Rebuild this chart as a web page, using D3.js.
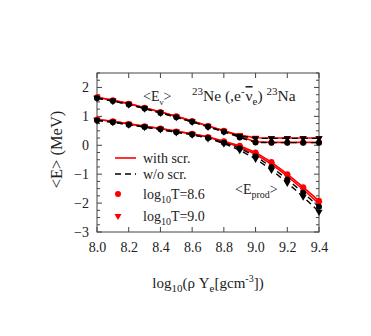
<!DOCTYPE html>
<html>
<head>
<meta charset="utf-8">
<script src="https://cdn.jsdelivr.net/npm/d3@7"></script>
<style>
  body { margin: 0; background: #fff; }
  text { font-family: "Liberation Serif", "DejaVu Serif", serif; fill: #222; }
</style>
</head>
<body>
<div id="chart"></div>
<script>
// Data
const rhoYe = [8.0, 8.1, 8.2, 8.3, 8.4, 8.5, 8.6, 8.7, 8.8, 8.9, 9.0, 9.1, 9.2, 9.3, 9.4]

// <E_nu>
const enuScrT86   = [1.66, 1.56, 1.44, 1.30, 1.15, 1.00, 0.84, 0.67, 0.50, 0.30, 0.12, 0.10, 0.10, 0.10, 0.10]
const enuScrT90   = [1.66, 1.56, 1.44, 1.30, 1.15, 1.00, 0.84, 0.67, 0.50, 0.35, 0.26, 0.25, 0.25, 0.25, 0.25]
const enuNoScrT86 = [1.63, 1.53, 1.41, 1.27, 1.12, 0.97, 0.81, 0.64, 0.47, 0.27, 0.10, 0.09, 0.09, 0.09, 0.09]
const enuNoScrT90 = [1.63, 1.53, 1.41, 1.27, 1.12, 0.97, 0.81, 0.64, 0.47, 0.32, 0.24, 0.24, 0.24, 0.24, 0.24]

// <E_prod>
const eprodScrT86   = [0.89, 0.83, 0.74, 0.66, 0.58, 0.48, 0.40, 0.29, 0.14, -0.02, -0.25, -0.58, -1.00, -1.45, -1.92]
const eprodScrT90   = [0.89, 0.83, 0.74, 0.66, 0.58, 0.48, 0.40, 0.28, 0.12, -0.06, -0.31, -0.65, -1.07, -1.53, -2.02]
const eprodNoScrT86 = [0.86, 0.80, 0.71, 0.63, 0.55, 0.45, 0.37, 0.25, 0.09, -0.10, -0.38, -0.75, -1.18, -1.64, -2.13]
const eprodNoScrT90 = [0.86, 0.80, 0.71, 0.63, 0.55, 0.45, 0.37, 0.24, 0.06, -0.17, -0.47, -0.85, -1.30, -1.78, -2.30]

const xTicks = [8.0, 8.2, 8.4, 8.6, 8.8, 9.0, 9.2, 9.4]
const yTicks = [-3, -2, -1, 0, 1, 2]

const series = [
    {vals: enuScrT86,     color: 'red',   dash: null,  mark: 'circle'},
    {vals: enuScrT90,     color: 'red',   dash: null,  mark: 'tri'},
    {vals: eprodScrT86,   color: 'red',   dash: null,  mark: 'circle'},
    {vals: eprodScrT90,   color: 'red',   dash: null,  mark: 'tri'},
    {vals: enuNoScrT86,   color: 'black', dash: '6,4', mark: 'circle'},
    {vals: enuNoScrT90,   color: 'black', dash: '6,4', mark: 'tri'},
    {vals: eprodNoScrT86, color: 'black', dash: '6,4', mark: 'circle'},
    {vals: eprodNoScrT90, color: 'black', dash: '6,4', mark: 'tri'}
]

//Dimensions
let margin = {top: 73, right: 52, bottom: 104, left: 97},
    width = 371 - margin.left - margin.right,
    height = 336 - margin.top - margin.bottom

const svg = d3.select('#chart')
    .append('svg')
    .attr('width', 371)
    .attr('height', 336)
    .append('g')
    .attr('transform', 'translate(' + margin.left + ',' + margin.top + ')')

// Scales
let x = d3.scaleLinear().domain([8.0, 9.4]).range([0, width])
let y = d3.scaleLinear().domain([-3, 2.5]).range([height, 0])

// Frame
svg.append('rect')
    .attr('width', width).attr('height', height)
    .attr('fill', 'none').attr('stroke', '#444').attr('stroke-width', 1)

// Ticks (inward) - minor y every 0.25
let yMinor = d3.range(-3, 2.51, 0.25)
const tickColor = '#444'
yMinor.forEach(v => {
    let major = Math.abs(v - Math.round(v)) < 1e-6
    let len = major ? 5 : 3
    svg.append('line').attr('x1', 0).attr('x2', len).attr('y1', y(v)).attr('y2', y(v)).attr('stroke', tickColor)
    svg.append('line').attr('x1', width).attr('x2', width - len).attr('y1', y(v)).attr('y2', y(v)).attr('stroke', tickColor)
})
xTicks.forEach(v => {
    svg.append('line').attr('x1', x(v)).attr('x2', x(v)).attr('y1', height).attr('y2', height - 5).attr('stroke', tickColor)
    svg.append('line').attr('x1', x(v)).attr('x2', x(v)).attr('y1', 0).attr('y2', 5).attr('stroke', tickColor)
})

// Axis labels via d3 axes (ticks hidden, just text)
let xAxis = svg.append('g')
    .attr('transform', 'translate(0,' + height + ')')
    .call(d3.axisBottom(x).tickValues(xTicks).tickFormat(d3.format('.1f')).tickSize(0).tickPadding(10))
let yAxis = svg.append('g')
    .call(d3.axisLeft(y).tickValues(yTicks).tickFormat(d3.format('d')).tickSize(0).tickPadding(8))
svg.selectAll('.domain').remove()
svg.selectAll('.tick text')
    .style('font-family', '"Liberation Serif", serif')
    .style('font-size', '14px')
    .attr('fill', '#222')

// Lines
let line = d3.line().x((d, i) => x(rhoYe[i])).y(d => y(d))
let tri = d3.symbol().type(d3.symbolTriangle).size(22)

series.forEach(s => {
    svg.append('path')
        .datum(s.vals)
        .attr('d', line)
        .attr('fill', 'none')
        .attr('stroke', s.color)
        .attr('stroke-width', s.color === 'red' ? 1.6 : 1.4)
        .attr('stroke-dasharray', s.dash)
    let g = svg.append('g')
    if (s.mark === 'circle') {
        g.selectAll('circle').data(s.vals).enter().append('circle')
            .attr('cx', (d, i) => x(rhoYe[i]))
            .attr('cy', d => y(d))
            .attr('r', 3)
            .attr('fill', s.color)
    } else {
        g.selectAll('path').data(s.vals).enter().append('path')
            .attr('d', tri)
            .attr('transform', (d, i) => 'translate(' + x(rhoYe[i]) + ',' + y(d) + ') rotate(180)')
            .attr('fill', s.color)
    }
})

// Legend
let leg = svg.append('g')
leg.append('line').attr('x1', 18).attr('x2', 39).attr('y1', 85).attr('y2', 85).attr('stroke', 'red').attr('stroke-width', 1.6)
leg.append('text').attr('x', 46).attr('y', 90).style('font-size', '14px').text('with scr.')
leg.append('line').attr('x1', 18).attr('x2', 39).attr('y1', 101).attr('y2', 101).attr('stroke', 'black').attr('stroke-width', 1.6).attr('stroke-dasharray', '6,4')
leg.append('text').attr('x', 46).attr('y', 106).style('font-size', '14px').text('w/o scr.')
leg.append('circle').attr('cx', 21).attr('cy', 121).attr('r', 3).attr('fill', 'red')
let t1 = leg.append('text').attr('x', 46).attr('y', 126).style('font-size', '14px')
t1.append('tspan').text('log')
t1.append('tspan').attr('dy', 4).style('font-size', '10px').text('10')
t1.append('tspan').attr('dy', -4).text('T=8.6')
leg.append('path').attr('d', tri).attr('transform', 'translate(21,143) rotate(180)').attr('fill', 'red')
let t2 = leg.append('text').attr('x', 46).attr('y', 148).style('font-size', '14px')
t2.append('tspan').text('log')
t2.append('tspan').attr('dy', 4).style('font-size', '10px').text('10')
t2.append('tspan').attr('dy', -4).text('T=9.0')

// Annotations
let enu = svg.append('text').attr('x', 46).attr('y', 28).style('font-size', '14px')
enu.append('tspan').text('<E')
enu.append('tspan').attr('dy', 4).style('font-size', '9px').text('ν')
enu.append('tspan').attr('dy', -4).text('>')

let ttl = svg.append('text').attr('x', 95).attr('y', 28).style('font-size', '15.5px')
ttl.append('tspan').attr('dy', -6).style('font-size', '11px').text('23')
ttl.append('tspan').attr('dy', 6).text('Ne (,e')
ttl.append('tspan').attr('dy', -6).style('font-size', '11px').text('-')
ttl.append('tspan').attr('dy', 6).attr('dx', 1).style('text-decoration', 'overline').text('ν')
ttl.append('tspan').attr('dy', 4).style('font-size', '11px').text('e')
ttl.append('tspan').attr('dy', -4).text(') ')
ttl.append('tspan').attr('dy', -6).style('font-size', '11px').text('23')
ttl.append('tspan').attr('dy', 6).text('Na')

let ep = svg.append('text').attr('x', 138).attr('y', 121).style('font-size', '14px')
ep.append('tspan').text('<E')
ep.append('tspan').attr('dy', 4).style('font-size', '10px').text('prod')
ep.append('tspan').attr('dy', -4).text('>')

// Axis titles
svg.append('text')
    .attr('transform', 'translate(-35,' + (height / 2 - 3) + ') rotate(-90)')
    .attr('text-anchor', 'middle')
    .style('font-size', '16.5px')
    .text('<E> (MeV)')

let xt = svg.append('text').attr('x', width / 2).attr('y', height + 56)
    .attr('text-anchor', 'middle').style('font-size', '15px')
xt.append('tspan').text('log')
xt.append('tspan').attr('dy', 4).style('font-size', '11px').text('10')
xt.append('tspan').attr('dy', -4).text('(ρ Y')
xt.append('tspan').attr('dy', 4).style('font-size', '11px').text('e')
xt.append('tspan').attr('dy', -4).text('[gcm')
xt.append('tspan').attr('dy', -6).style('font-size', '10px').text('-3')
xt.append('tspan').attr('dy', 6).text('])')
</script>
</body>
</html>
